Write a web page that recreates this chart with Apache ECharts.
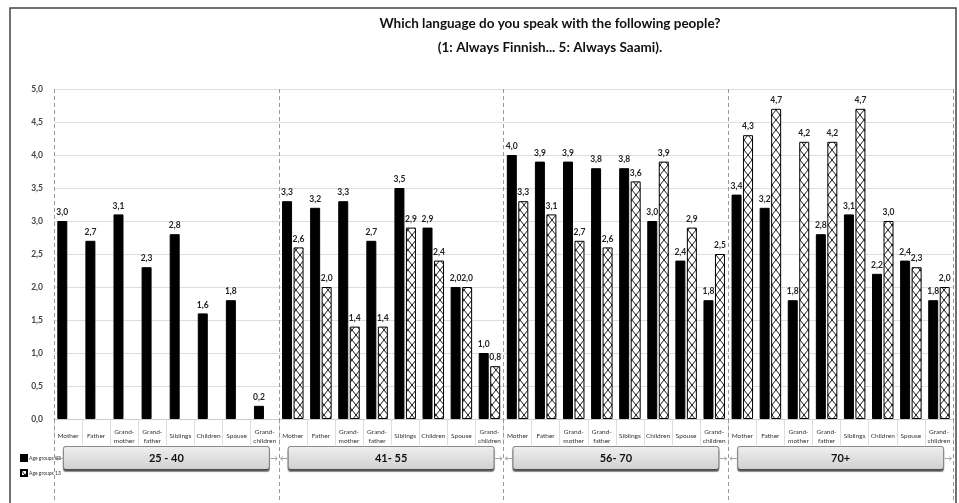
<!DOCTYPE html>
<html>
<head>
<meta charset="utf-8">
<script src="https://cdn.jsdelivr.net/npm/echarts@6/dist/echarts.min.js"></script>
<style>
  html, body { margin: 0; padding: 0; background: #fff; }
  #chart { width: 959px; height: 503px; }
</style>
</head>
<body>
<div id="chart"></div>
<script>
// Relationship categories, repeated for each age group
const relations = ['Mother', 'Father', 'Grand-\nmother', 'Grand-\nfather', 'Siblings', 'Children', 'Spouse', 'Grand-\nchildren'];
const ageGroups = ['25 - 40', '41- 55', '56- 70', '70+'];
const seriesNames = ['Age groups 03', 'Age groups 13'];

// Mean answer (1: Always Finnish ... 5: Always Saami), one array per age group
const y03_25_40 = [3.0, 2.7, 3.1, 2.3, 2.8, 1.6, 1.8, 0.2];
const y03_41_55 = [3.3, 3.2, 3.3, 2.7, 3.5, 2.9, 2.0, 1.0];
const y03_56_70 = [4.0, 3.9, 3.9, 3.8, 3.8, 3.0, 2.4, 1.8];
const y03_70p   = [3.4, 3.2, 1.8, 2.8, 3.1, 2.2, 2.4, 1.8];

const y13_25_40 = [null, null, null, null, null, null, null, null];
const y13_41_55 = [2.6, 2.0, 1.4, 1.4, 2.9, 2.4, 2.0, 0.8];
const y13_56_70 = [3.3, 3.1, 2.7, 2.6, 3.6, 3.9, 2.9, 2.5];
const y13_70p   = [4.3, 4.7, 4.2, 4.2, 4.7, 3.0, 2.3, 2.0];

const yTicks = [0, 0.5, 1, 1.5, 2, 2.5, 3, 3.5, 4, 4.5, 5];

const categories = [].concat(relations, relations, relations, relations);
const data03 = [].concat(y03_25_40, y03_41_55, y03_56_70, y03_70p);
const data13 = [].concat(y13_25_40, y13_41_55, y13_56_70, y13_70p);

const FONT = "Lato, 'Liberation Sans', sans-serif";
const fmt = v => (v == null ? '' : Number(v).toFixed(1).replace('.', ','));

// Cross-hatch fill for the second series
function hatchPattern() {
  const c = document.createElement('canvas');
  c.width = 8; c.height = 10;
  const g = c.getContext('2d');
  g.fillStyle = '#fff';
  g.fillRect(0, 0, 8, 10);
  g.strokeStyle = '#000';
  g.lineWidth = 0.9;
  g.beginPath();
  g.moveTo(0, 0); g.lineTo(8, 10);
  g.moveTo(8, 0); g.lineTo(0, 10);
  g.stroke();
  return c;
}

const chart = echarts.init(document.getElementById('chart'), null, { renderer: 'canvas' });

chart.setOption({
  backgroundColor: '#fff',
  animation: false,
  textStyle: { fontFamily: FONT },
  title: {
    text: 'Which language do you speak with the following people?\n(1: Always Finnish... 5: Always Saami).',
    left: 545,
    top: 7,
    textAlign: 'center',
    textStyle: { fontFamily: FONT, fontSize: 13.5, fontWeight: 'bold', color: '#111', lineHeight: 24 }
  },
  legend: {
    orient: 'vertical',
    left: 15,
    top: 449,
    itemWidth: 6,
    itemHeight: 6,
    itemGap: 7,
    icon: 'rect',
    textStyle: { fontFamily: FONT, fontSize: 5, color: '#333', padding: [0, 0, 0, -3] },
    data: seriesNames
  },
  graphic: [{
    type: 'rect',
    shape: { x: 10, y: 8, width: 946, height: 500 },
    style: { fill: 'none', stroke: '#444', lineWidth: 1.5 },
    silent: true
  }],
  grid: { left: 54, right: 6, top: 89, bottom: 84 },
  xAxis: [{
    type: 'category',
    data: categories,
    axisLine: { show: true, lineStyle: { color: '#ccc' } },
    axisTick: { show: true, length: 26, lineStyle: { color: '#ddd' } },
    axisLabel: {
      interval: 0,
      fontFamily: FONT,
      fontSize: 6.5,
      lineHeight: 9,
      color: '#333',
      verticalAlign: 'middle',
      margin: 17
    }
  }, {
    type: 'category',
    data: ageGroups,
    position: 'bottom',
    axisLine: { show: false },
    axisTick: { show: true, length: 84, lineStyle: { color: '#999', type: [4, 3] } },
    splitLine: { show: true, lineStyle: { color: '#999', type: [4, 3] } },
    axisLabel: {
      interval: 0,
      margin: 28,
      formatter: v => '{arr|←}{box|' + v + '}{arr|→}',
      rich: {
        box: {
          width: 205,
          height: 22,
          align: 'center',
          fontFamily: FONT,
          fontSize: 11,
          fontWeight: 'bold',
          color: '#111',
          backgroundColor: {
            type: 'linear', x: 0, y: 0, x2: 0, y2: 1,
            colorStops: [{ offset: 0, color: '#f0f0f0' }, { offset: 1, color: '#cfcfcf' }]
          },
          borderColor: '#8a8a8a',
          borderWidth: 1,
          borderRadius: 2,
          shadowColor: 'rgba(0,0,0,0.45)',
          shadowOffsetY: 2,
          shadowBlur: 1
        },
        arr: { fontSize: 8, color: '#888', padding: [0, 1] }
      }
    }
  }],
  yAxis: {
    type: 'value',
    min: 0,
    max: 5,
    interval: 0.5,
    axisLine: { show: false },
    axisTick: { show: false },
    splitLine: { lineStyle: { color: '#ddd' } },
    axisLabel: {
      fontFamily: FONT,
      fontSize: 8.5,
      fontWeight: 'bold',
      color: '#444',
      margin: 11,
      formatter: v => yTicks.indexOf(v) >= 0 ? fmt(v) : ''
    }
  },
  series: [{
    name: seriesNames[0],
    type: 'bar',
    xAxisIndex: 0,
    data: data03,
    barWidth: 10,
    barGap: '15%',
    itemStyle: { color: '#000', borderColor: '#000', borderWidth: 1 },
    label: {
      show: true, position: 'top', distance: 4,
      fontFamily: FONT, fontSize: 8.5, fontWeight: 'bold', color: '#222',
      formatter: p => fmt(p.value)
    }
  }, {
    name: seriesNames[1],
    type: 'bar',
    xAxisIndex: 0,
    data: data13,
    barWidth: 10,
    itemStyle: {
      color: { image: hatchPattern(), repeat: 'repeat' },
      borderColor: '#000',
      borderWidth: 1
    },
    label: {
      show: true, position: 'top', distance: 4,
      fontFamily: FONT, fontSize: 8.5, fontWeight: 'bold', color: '#222',
      formatter: p => fmt(p.value)
    }
  }]
});
</script>
</body>
</html>
